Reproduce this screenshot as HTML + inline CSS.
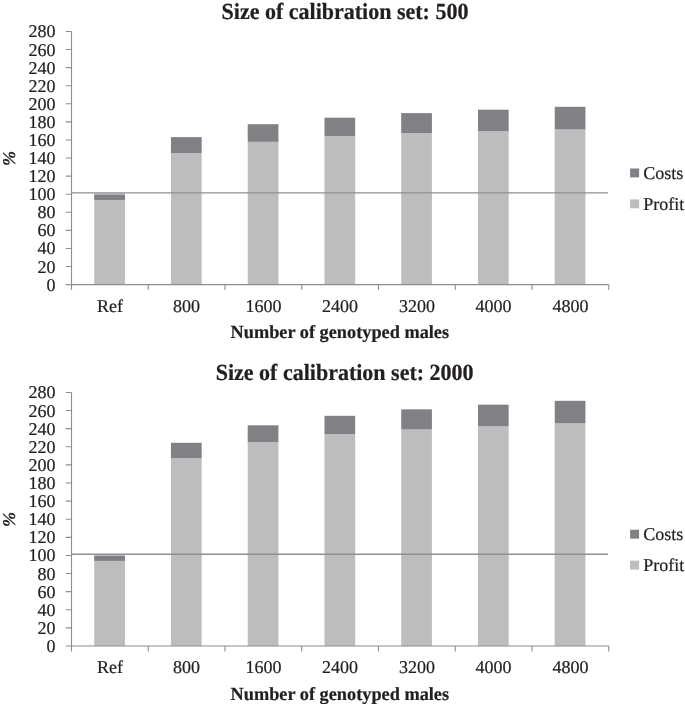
<!DOCTYPE html>
<html><head><meta charset="utf-8"><title>Chart</title>
<style>
html,body{margin:0;padding:0;background:#fff}
svg{display:block;font-family:"Liberation Serif","Times New Roman",serif;fill:#231f20;text-rendering:geometricPrecision}
text{stroke:#231f20;stroke-width:.22px;stroke-linejoin:round}
</style></head><body>
<svg width="685" height="704" viewBox="0 0 685 704">
<rect width="685" height="704" fill="#fff"/>
<text transform="translate(345.00 19.00) scale(1 1.05)" text-anchor="middle" font-size="22" font-weight="bold">Size of calibration set: 500</text>
<rect x="94.23" y="193.25" width="30.7" height="91.35" fill="#bcbdbf"/>
<rect x="94.23" y="194.80" width="30.7" height="5.15" fill="#808184"/>
<rect x="170.97" y="153.15" width="30.7" height="131.45" fill="#bcbdbf"/>
<rect x="170.97" y="137.10" width="30.7" height="16.05" fill="#808184"/>
<rect x="247.72" y="141.85" width="30.7" height="142.75" fill="#bcbdbf"/>
<rect x="247.72" y="124.20" width="30.7" height="17.65" fill="#808184"/>
<rect x="324.47" y="136.00" width="30.7" height="148.60" fill="#bcbdbf"/>
<rect x="324.47" y="117.70" width="30.7" height="18.30" fill="#808184"/>
<rect x="401.22" y="133.05" width="30.7" height="151.55" fill="#bcbdbf"/>
<rect x="401.22" y="113.10" width="30.7" height="19.95" fill="#808184"/>
<rect x="477.97" y="131.20" width="30.7" height="153.40" fill="#bcbdbf"/>
<rect x="477.97" y="109.70" width="30.7" height="21.50" fill="#808184"/>
<rect x="554.73" y="129.50" width="30.7" height="155.10" fill="#bcbdbf"/>
<rect x="554.73" y="106.80" width="30.7" height="22.70" fill="#808184"/>
<path d="M71.5 31.40V284.60H608.75" fill="none" stroke="#8c8e90" stroke-width="1.1"/>
<text transform="translate(55.6 290.60)" text-anchor="end" font-size="18">0</text>
<text transform="translate(55.6 272.52)" text-anchor="end" font-size="18">20</text>
<text transform="translate(55.6 254.44)" text-anchor="end" font-size="18">40</text>
<text transform="translate(55.6 236.35)" text-anchor="end" font-size="18">60</text>
<text transform="translate(55.6 218.27)" text-anchor="end" font-size="18">80</text>
<text transform="translate(55.6 200.19)" text-anchor="end" font-size="18">100</text>
<text transform="translate(55.6 182.11)" text-anchor="end" font-size="18">120</text>
<text transform="translate(55.6 164.03)" text-anchor="end" font-size="18">140</text>
<text transform="translate(55.6 145.94)" text-anchor="end" font-size="18">160</text>
<text transform="translate(55.6 127.86)" text-anchor="end" font-size="18">180</text>
<text transform="translate(55.6 109.78)" text-anchor="end" font-size="18">200</text>
<text transform="translate(55.6 91.70)" text-anchor="end" font-size="18">220</text>
<text transform="translate(55.6 73.61)" text-anchor="end" font-size="18">240</text>
<text transform="translate(55.6 55.53)" text-anchor="end" font-size="18">260</text>
<text transform="translate(55.6 37.45)" text-anchor="end" font-size="18">280</text>
<path d="M65.80 284.60H71.5M65.80 266.52H71.5M65.80 248.44H71.5M65.80 230.35H71.5M65.80 212.27H71.5M65.80 194.19H71.5M65.80 176.11H71.5M65.80 158.03H71.5M65.80 139.94H71.5M65.80 121.86H71.5M65.80 103.78H71.5M65.80 85.70H71.5M65.80 67.61H71.5M65.80 49.53H71.5M65.80 31.45H71.5M71.50 284.60V290.10M148.25 284.60V290.10M225.00 284.60V290.10M301.75 284.60V290.10M378.50 284.60V290.10M455.25 284.60V290.10M532.00 284.60V290.10M608.75 284.60V290.10" fill="none" stroke="#8c8e90" stroke-width="1.1"/>
<path d="M71.50 192.85H607.9" stroke="#8e8f91" stroke-width="1.4"/>
<text transform="translate(109.88 311.80)" text-anchor="middle" font-size="18">Ref</text>
<text transform="translate(186.62 311.80)" text-anchor="middle" font-size="18">800</text>
<text transform="translate(263.38 311.80)" text-anchor="middle" font-size="18">1600</text>
<text transform="translate(340.12 311.80)" text-anchor="middle" font-size="18">2400</text>
<text transform="translate(416.88 311.80)" text-anchor="middle" font-size="18">3200</text>
<text transform="translate(493.62 311.80)" text-anchor="middle" font-size="18">4000</text>
<text transform="translate(570.38 311.80)" text-anchor="middle" font-size="18">4800</text>
<text transform="translate(339.85 338.15) scale(1 1.01)" text-anchor="middle" font-size="18.3" font-weight="bold">Number of genotyped males</text>
<text transform="translate(15.3 158.55) rotate(-90)" text-anchor="middle" font-size="18" font-weight="bold" font-style="italic" stroke="#231f20" stroke-width="0.35">%</text>
<rect x="630.1" y="168.50" width="9" height="8.9" fill="#808184"/>
<text x="643.3" y="178.80" font-size="18">Costs</text>
<rect x="630.1" y="199.40" width="9" height="8.9" fill="#bcbdbf"/>
<text x="643.3" y="209.70" font-size="18">Profit</text>
<text transform="translate(344.65 379.60) scale(1 1.05)" text-anchor="middle" font-size="22" font-weight="bold">Size of calibration set: 2000</text>
<rect x="94.23" y="554.65" width="30.7" height="91.35" fill="#bcbdbf"/>
<rect x="94.23" y="556.00" width="30.7" height="4.85" fill="#808184"/>
<rect x="170.97" y="458.10" width="30.7" height="187.90" fill="#bcbdbf"/>
<rect x="170.97" y="442.80" width="30.7" height="15.30" fill="#808184"/>
<rect x="247.72" y="442.15" width="30.7" height="203.85" fill="#bcbdbf"/>
<rect x="247.72" y="425.30" width="30.7" height="16.85" fill="#808184"/>
<rect x="324.47" y="434.00" width="30.7" height="212.00" fill="#bcbdbf"/>
<rect x="324.47" y="415.80" width="30.7" height="18.20" fill="#808184"/>
<rect x="401.22" y="429.40" width="30.7" height="216.60" fill="#bcbdbf"/>
<rect x="401.22" y="409.35" width="30.7" height="20.05" fill="#808184"/>
<rect x="477.97" y="426.30" width="30.7" height="219.70" fill="#bcbdbf"/>
<rect x="477.97" y="404.65" width="30.7" height="21.65" fill="#808184"/>
<rect x="554.73" y="423.30" width="30.7" height="222.70" fill="#bcbdbf"/>
<rect x="554.73" y="400.80" width="30.7" height="22.50" fill="#808184"/>
<path d="M71.5 392.40V646.00H608.75" fill="none" stroke="#8c8e90" stroke-width="1.1"/>
<text transform="translate(55.6 652.00)" text-anchor="end" font-size="18">0</text>
<text transform="translate(55.6 633.89)" text-anchor="end" font-size="18">20</text>
<text transform="translate(55.6 615.78)" text-anchor="end" font-size="18">40</text>
<text transform="translate(55.6 597.67)" text-anchor="end" font-size="18">60</text>
<text transform="translate(55.6 579.56)" text-anchor="end" font-size="18">80</text>
<text transform="translate(55.6 561.45)" text-anchor="end" font-size="18">100</text>
<text transform="translate(55.6 543.34)" text-anchor="end" font-size="18">120</text>
<text transform="translate(55.6 525.23)" text-anchor="end" font-size="18">140</text>
<text transform="translate(55.6 507.11)" text-anchor="end" font-size="18">160</text>
<text transform="translate(55.6 489.00)" text-anchor="end" font-size="18">180</text>
<text transform="translate(55.6 470.89)" text-anchor="end" font-size="18">200</text>
<text transform="translate(55.6 452.78)" text-anchor="end" font-size="18">220</text>
<text transform="translate(55.6 434.67)" text-anchor="end" font-size="18">240</text>
<text transform="translate(55.6 416.56)" text-anchor="end" font-size="18">260</text>
<text transform="translate(55.6 398.45)" text-anchor="end" font-size="18">280</text>
<path d="M65.80 646.00H71.5M65.80 627.89H71.5M65.80 609.78H71.5M65.80 591.67H71.5M65.80 573.56H71.5M65.80 555.45H71.5M65.80 537.34H71.5M65.80 519.23H71.5M65.80 501.11H71.5M65.80 483.00H71.5M65.80 464.89H71.5M65.80 446.78H71.5M65.80 428.67H71.5M65.80 410.56H71.5M65.80 392.45H71.5M71.50 646.00V651.50M148.25 646.00V651.50M225.00 646.00V651.50M301.75 646.00V651.50M378.50 646.00V651.50M455.25 646.00V651.50M532.00 646.00V651.50M608.75 646.00V651.50" fill="none" stroke="#8c8e90" stroke-width="1.1"/>
<path d="M71.50 554.25H607.9" stroke="#8e8f91" stroke-width="1.4"/>
<text transform="translate(109.88 673.10)" text-anchor="middle" font-size="18">Ref</text>
<text transform="translate(186.62 673.10)" text-anchor="middle" font-size="18">800</text>
<text transform="translate(263.38 673.10)" text-anchor="middle" font-size="18">1600</text>
<text transform="translate(340.12 673.10)" text-anchor="middle" font-size="18">2400</text>
<text transform="translate(416.88 673.10)" text-anchor="middle" font-size="18">3200</text>
<text transform="translate(493.62 673.10)" text-anchor="middle" font-size="18">4000</text>
<text transform="translate(570.38 673.10)" text-anchor="middle" font-size="18">4800</text>
<text transform="translate(339.85 699.55) scale(1 1.01)" text-anchor="middle" font-size="18.3" font-weight="bold">Number of genotyped males</text>
<text transform="translate(15.3 519.55) rotate(-90)" text-anchor="middle" font-size="18" font-weight="bold" font-style="italic" stroke="#231f20" stroke-width="0.35">%</text>
<rect x="630.1" y="529.75" width="9" height="8.9" fill="#808184"/>
<text x="643.3" y="540.05" font-size="18">Costs</text>
<rect x="630.1" y="560.65" width="9" height="8.9" fill="#bcbdbf"/>
<text x="643.3" y="570.95" font-size="18">Profit</text>
</svg>
</body></html>
